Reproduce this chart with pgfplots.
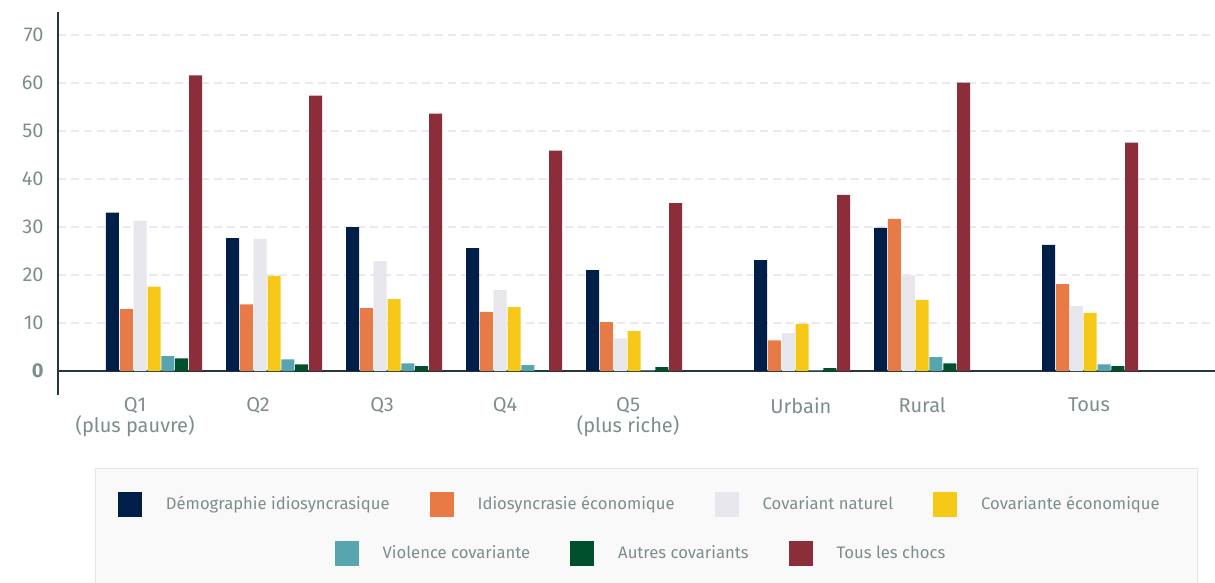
\documentclass[border=0pt]{standalone}
\usepackage{fontspec}
\setmainfont{Fira Sans}
\usepackage{pgfplots}
\pgfplotsset{compat=1.18}
\definecolor{cnavy}{HTML}{001F48}
\definecolor{corange}{HTML}{E87A45}
\definecolor{cgray}{HTML}{E6E6EC}
\definecolor{cyellow}{HTML}{F6C918}
\definecolor{cteal}{HTML}{58A5B0}
\definecolor{cgreen}{HTML}{00502E}
\definecolor{cmaroon}{HTML}{8B2E3A}
\definecolor{textgray}{HTML}{7D8D8D}
\definecolor{axisline}{HTML}{23393C}
\definecolor{gridc}{HTML}{E9E9EF}
\definecolor{boxfill}{HTML}{F9F9F9}
\definecolor{boxline}{HTML}{E1E5E5}
\pgfplotsset{
  sq/.style={legend image code/.code={\fill[##1] (0pt,-6.25pt) rectangle (12pt,6.25pt); \path (24pt,0pt);}},
  legrow/.style={legend style={draw=none, fill=none, anchor=center,
     font=\fontsize{8.33}{10}\selectfont,
     nodes={inner sep=0pt, text=textgray},
     /tikz/every even column/.append style={column sep=20pt}}},
}
\begin{document}
\begin{tikzpicture}
\filldraw[fill=boxfill, draw=boxline, line width=0.5pt] (47.5pt,-234pt) rectangle (598.75pt,-300pt);
\begin{axis}[
  at={(29pt,-197.5pt)}, anchor=south west,
  scale only axis, width=578.5pt, height=191.5pt,
  xmin=-0.8, xmax=8.84, ymin=-5, ymax=74.8,
  axis lines*=left,
  x axis line style={draw=none},
  y axis line style={draw=axisline, line width=0.75pt},
  ybar=0.42pt, bar width=6.5pt,
  ytick={10,20,...,70},
  extra y ticks={0},
  extra y tick style={ymajorgrids=true, major grid style={solid, draw=axisline, line width=0.75pt, dash pattern=}, yticklabel style={font=\fontsize{10}{12}\selectfont\bfseries}},
  ymajorgrids,
  major grid style={draw=gridc, dash pattern=on 4pt off 2.5pt, line width=0.6pt},
  major tick length=0pt,
  tick label style={text=textgray, font=\fontsize{10}{8}\selectfont},
  yticklabel style={inner sep=0pt, xshift=-7pt},
  xtick={-0.158,0.867,1.9,2.925,3.95,5.39,6.4,7.79},
  xticklabels={{Q1\\(plus pauvre)},Q2,Q3,Q4,{Q5\\(plus riche)},Urbain,Rural,Tous},
  xticklabel style={align=center, inner sep=0pt, yshift=-1pt},
  /pgf/number format/assume math mode=true,
  legrow,
  legend style={at={(0.502,-0.2846)}},
  legend columns=4,
]
\addplot[sq, fill=cnavy, draw=none] coordinates {(0,33.0) (1,27.7) (2,30.0) (3,25.6) (4,21.0) (5.4,23.1) (6.4,29.8) (7.8,26.3)};
\addplot[sq, fill=corange, draw=none] coordinates {(0,12.9) (1,13.9) (2,13.1) (3,12.3) (4,10.2) (5.4,6.4) (6.4,31.7) (7.8,18.1)};
\addplot[sq, fill=cgray, draw=none] coordinates {(0,31.3) (1,27.5) (2,22.9) (3,16.9) (4,6.8) (5.4,7.9) (6.4,19.9) (7.8,13.5)};
\addplot[sq, fill=cyellow, draw=none] coordinates {(0,17.6) (1,19.8) (2,15.0) (3,13.3) (4,8.3) (5.4,9.8) (6.4,14.8) (7.8,12.1)};
\addplot[sq, fill=cteal, draw=none] coordinates {(0,3.1) (1,2.4) (2,1.6) (3,1.2) (4,0.15) (5.4,0.15) (6.4,2.9) (7.8,1.4)};
\addplot[sq, fill=cgreen, draw=none] coordinates {(0,2.65) (1,1.4) (2,1.0) (3,0.2) (4,0.8) (5.4,0.6) (6.4,1.6) (7.8,1.0)};
\addplot[sq, fill=cmaroon, draw=none] coordinates {(0,61.6) (1,57.4) (2,53.6) (3,45.9) (4,35.0) (5.4,36.7) (6.4,60.1) (7.8,47.6)};
\legend{Démographie idiosyncrasique, Idiosyncrasie économique, Covariant naturel, Covariante économique}
\end{axis}
\begin{axis}[
  at={(29pt,-197.5pt)}, anchor=south west,
  scale only axis, width=578.5pt, height=191.5pt,
  xmin=0, xmax=1, ymin=0, ymax=1, hide axis,
  legrow,
  legend style={at={(0.503,-0.415)}},
  legend columns=3,
]
\addlegendimage{sq, fill=cteal, draw=none}
\addlegendentry{Violence covariante}
\addlegendimage{sq, fill=cgreen, draw=none}
\addlegendentry{Autres covariants}
\addlegendimage{sq, fill=cmaroon, draw=none}
\addlegendentry{Tous les chocs}
\end{axis}
\pgfresetboundingbox
\path[use as bounding box] (0pt,0pt) rectangle (607.5pt,-291.5pt);
\end{tikzpicture}
\end{document}
